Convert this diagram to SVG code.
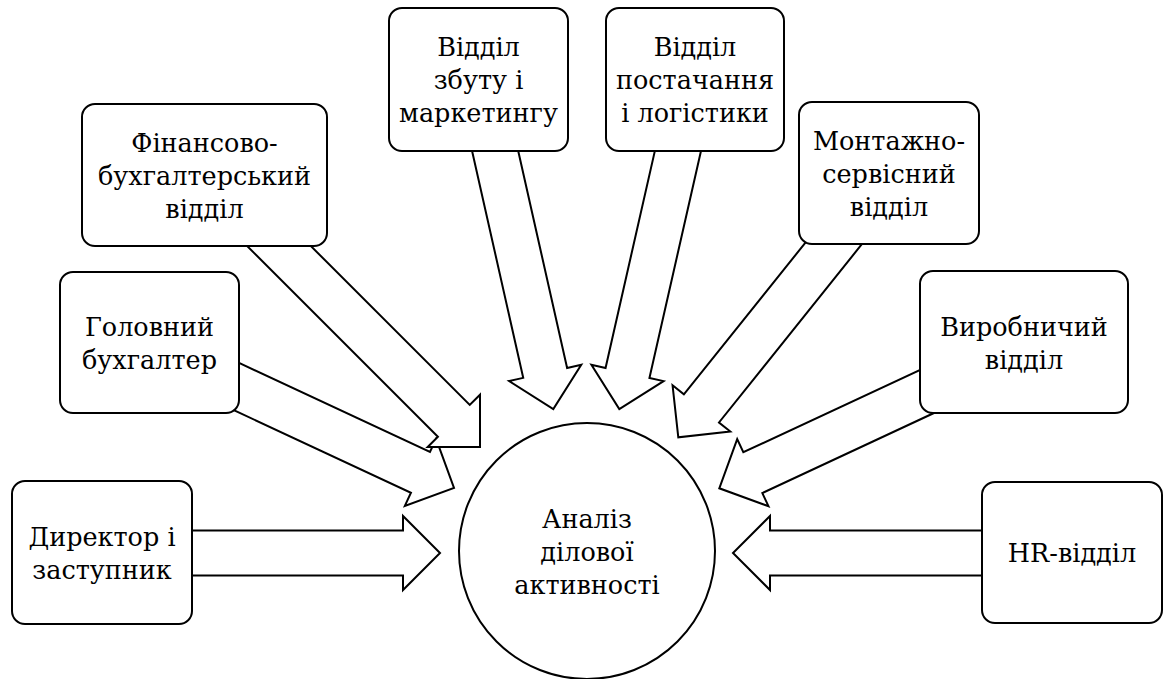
<svg xmlns="http://www.w3.org/2000/svg" width="1163" height="679" viewBox="0 0 1163 679">
<style>
.box{fill:#fff;stroke:#000;stroke-width:2}
.arr{fill:#fff;stroke:#000;stroke-width:2;stroke-linejoin:miter}
.t{font-family:'DejaVu Serif','Liberation Serif',serif;font-size:25.5px;fill:#000;text-anchor:middle}
</style>
<rect width="1163" height="679" fill="#fff"/>
<g id="connectors">
<polygon class="arr" points="-260,-22.5 -37,-22.5 -37,-37 0,0 -37,37 -37,22.5 -260,22.5" transform="translate(440,553)"/>
<polygon class="arr" points="-260,-22.5 -37,-22.5 -37,-37 0,0 -37,37 -37,22.5 -260,22.5" transform="translate(733,553) rotate(180)"/>
<polygon class="arr" points="-250,-22.5 -37,-22.5 -37,-37 0,0 -37,37 -37,22.5 -250,22.5" transform="translate(454,488) rotate(25)"/>
<polygon class="arr" points="-315,-22.5 -37,-22.5 -37,-37 0,0 -37,37 -37,22.5 -315,22.5" transform="translate(480,447) rotate(45)"/>
<polygon class="arr" points="-275,-22.5 -37,-22.5 -37,-37 0,0 -37,37 -37,22.5 -275,22.5" transform="translate(553.3,409) rotate(77.3)"/>
<polygon class="arr" points="-275,-22.5 -37,-22.5 -37,-37 0,0 -37,37 -37,22.5 -275,22.5" transform="translate(619.3,409) rotate(102.8)"/>
<polygon class="arr" points="-240,-22.5 -37,-22.5 -37,-37 0,0 -37,37 -37,22.5 -240,22.5" transform="translate(719.3,488.3) rotate(155)"/>
<polygon class="arr" points="-275,-22.5 -37,-22.5 -37,-37 0,0 -37,37 -37,22.5 -275,22.5" transform="translate(678.3,437.3) rotate(128.7)"/>
</g>
<g id="director">
<rect class="box" x="12" y="481" width="180" height="143" rx="13"/>
<text class="t" x="102" y="546">Директор і</text>
<text class="t" x="102" y="579">заступник</text>
</g>
<g id="chief-accountant">
<rect class="box" x="60" y="272" width="179" height="141" rx="13"/>
<text class="t" x="149.5" y="336">Головний</text>
<text class="t" x="149.5" y="369">бухгалтер</text>
</g>
<g id="finance">
<rect class="box" x="82" y="104" width="245" height="142" rx="13"/>
<text class="t" x="204.5" y="152">Фінансово-</text>
<text class="t" x="204.5" y="185">бухгалтерський</text>
<text class="t" x="204.5" y="218">відділ</text>
</g>
<g id="sales">
<rect class="box" x="389" y="8" width="179" height="143" rx="13"/>
<text class="t" x="478.5" y="56">Відділ</text>
<text class="t" x="478.5" y="89">збуту і</text>
<text class="t" x="478.5" y="122">маркетингу</text>
</g>
<g id="supply">
<rect class="box" x="606" y="8" width="178" height="143" rx="13"/>
<text class="t" x="695" y="56">Відділ</text>
<text class="t" x="695" y="89">постачання</text>
<text class="t" x="695" y="122">і логістики</text>
</g>
<g id="installation">
<rect class="box" x="799" y="102" width="180" height="142" rx="13"/>
<text class="t" x="889" y="150">Монтажно-</text>
<text class="t" x="889" y="183">сервісний</text>
<text class="t" x="889" y="216">відділ</text>
</g>
<g id="production">
<rect class="box" x="920" y="271" width="208" height="142" rx="13"/>
<text class="t" x="1024" y="336">Виробничий</text>
<text class="t" x="1024" y="369">відділ</text>
</g>
<g id="hr">
<rect class="box" x="982" y="482" width="180" height="141" rx="13"/>
<text class="t" x="1072" y="562">HR-відділ</text>
</g>
<g id="analysis">
<circle class="box" cx="587" cy="551" r="128"/>
<text class="t" x="587" y="528">Аналіз</text>
<text class="t" x="587" y="561">ділової</text>
<text class="t" x="587" y="594">активності</text>
</g>
</svg>
